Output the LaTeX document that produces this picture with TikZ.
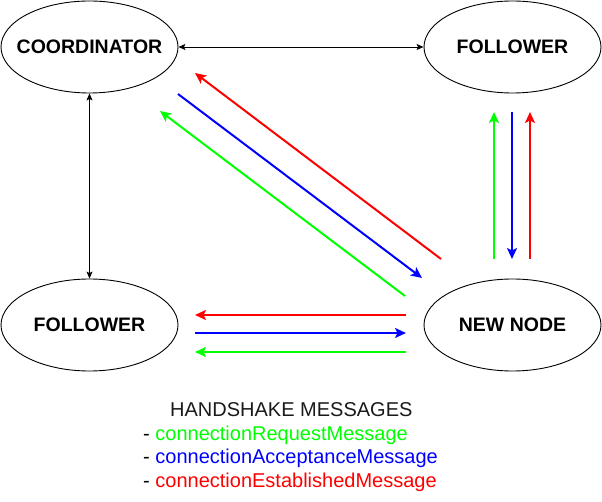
\documentclass[tikz,border=0pt]{standalone}
\usepackage{fontspec}
\setmainfont{Liberation Sans}
\usetikzlibrary{arrows.meta,shapes.geometric}
\definecolor{cgreen}{RGB}{0,255,0}
\definecolor{cblue}{RGB}{0,0,255}
\definecolor{cred}{RGB}{255,0,0}
\definecolor{ctext}{RGB}{26,26,26}
\begin{document}
\begin{tikzpicture}[x=1pt,y=-1pt,
  ent/.style={ellipse, draw, line width=0.9pt, minimum width=177pt, minimum height=92pt, inner sep=0pt,
    label={[font=\fontsize{19.5}{22}\selectfont\bfseries, inner sep=0pt]center:#1}},
  link/.style={line width=0.9pt, {Stealth[length=7pt,width=6pt,inset=1.5pt]}-{Stealth[length=7pt,width=6pt,inset=1.5pt]}},
  msg/.style={line width=2pt, -{Stealth[length=11pt,width=10pt,inset=2.5pt]}},
  legend/.style={anchor=base west, inner sep=0pt, font=\fontsize{20}{23}\selectfont}]
\useasboundingbox (0,0) rectangle (602,502);
\node[ent=COORDINATOR] (coord) at (89.5,47) {};
\node[ent=FOLLOWER] (foltop) at (512.5,47) {};
\node[ent=FOLLOWER] (folbot) at (89.5,325) {};
\node[ent={NEW NODE}] (newn) at (512.5,325) {};
\draw[link] (coord) -- (foltop);
\draw[link] (coord) -- (folbot);
% diagonal
\coordinate (rd1) at (441,259); \coordinate (rd2) at (195,73);
\coordinate (bd1) at (178,94); \coordinate (bd2) at (422,278);
\coordinate (gd1) at (405,296); \coordinate (gd2) at (160,111);
\draw[msg, cred] (rd1) -- (rd2);
\draw[msg, cblue] (bd1) -- (bd2);
\draw[msg, cgreen] (gd1) -- (gd2);
% horizontal
\coordinate (rh1) at (406,315); \coordinate (rh2) at (195,315);
\coordinate (bh1) at (195,333); \coordinate (bh2) at (406,333);
\coordinate (gh1) at (406,352); \coordinate (gh2) at (195,352);
\draw[msg, cred] (rh1) -- (rh2);
\draw[msg, cblue] (bh1) -- (bh2);
\draw[msg, cgreen] (gh1) -- (gh2);
% vertical
\coordinate (gv1) at (494,259); \coordinate (gv2) at (494,112);
\coordinate (bv1) at (512,112); \coordinate (bv2) at (512,259);
\coordinate (rv1) at (530,259); \coordinate (rv2) at (530,112);
\draw[msg, cgreen] (gv1) -- (gv2);
\draw[msg, cblue] (bv1) -- (bv2);
\draw[msg, cred] (rv1) -- (rv2);
% legend
\node[legend, text=ctext] (lt) at (170,416) {HANDSHAKE MESSAGES};
\node[legend] (l1) at (143,440) {- \textcolor{cgreen}{connectionRequestMessage}};
\node[legend] (l2) at (143,463.5) {- \textcolor{cblue}{connectionAcceptanceMessage}};
\node[legend] (l3) at (143,487) {- \textcolor{cred}{connectionEstablishedMessage}};
\end{tikzpicture}
\end{document}
